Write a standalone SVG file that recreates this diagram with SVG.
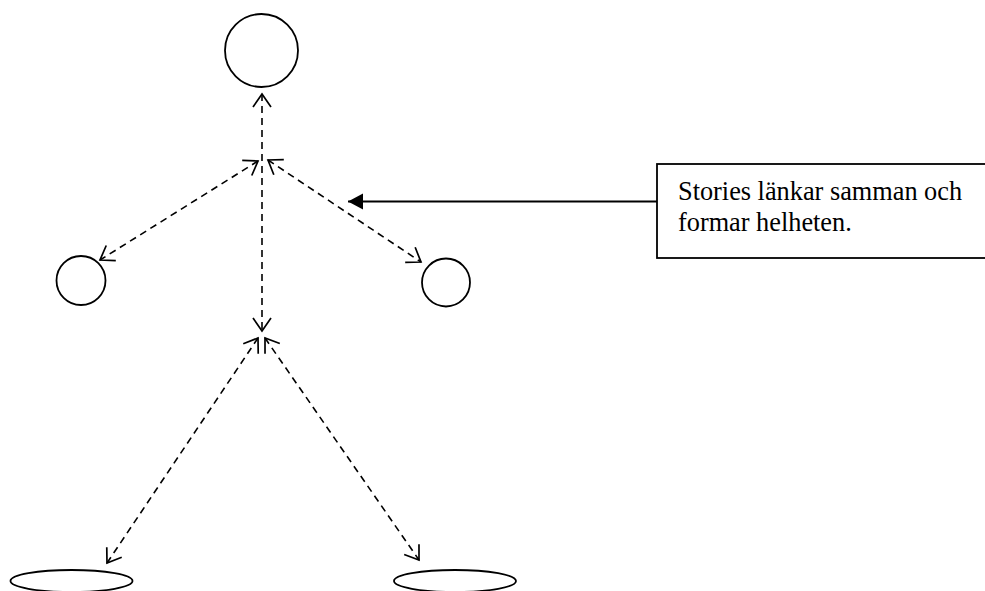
<svg xmlns="http://www.w3.org/2000/svg" width="985" height="591" viewBox="0 0 985 591">
  <defs>
    <style>
      .shape { fill: #fff; stroke: #000; stroke-width: 1.8; }
      .dash { fill: none; stroke: #000; stroke-width: 1.6; stroke-dasharray: 7 5; marker-start: url(#open); marker-end: url(#open); }
      .solid { fill: none; stroke: #000; stroke-width: 1.8; marker-end: url(#filled); }
      .label { font-family: "Liberation Serif", "Times New Roman", serif; font-size: 26.3px; fill: #000; }
    </style>
    <marker id="open" viewBox="-16 -11 18 22" refX="0" refY="0" markerWidth="18" markerHeight="22" markerUnits="userSpaceOnUse" orient="auto-start-reverse">
      <path d="M-13,-9 L0,0 L-13,9" fill="none" stroke="#000" stroke-width="1.7" stroke-dasharray="none"/>
    </marker>
    <marker id="filled" viewBox="-16 -9 18 18" refX="0" refY="0" markerWidth="18" markerHeight="18" markerUnits="userSpaceOnUse" orient="auto">
      <path d="M-15,-8 L0,0 L-15,8 Z" fill="#000" stroke="none"/>
    </marker>
  </defs>
  <rect width="985" height="591" fill="#fff"/>

  <g id="head"><circle class="shape" cx="261.5" cy="50.5" r="36.5"/></g>
  <g id="left-hand"><circle class="shape" cx="81" cy="280.5" r="24.5"/></g>
  <g id="right-hand"><circle class="shape" cx="446" cy="282.5" r="24"/></g>
  <g id="left-foot"><ellipse class="shape" cx="71.5" cy="581" rx="61" ry="11"/></g>
  <g id="right-foot"><ellipse class="shape" cx="455" cy="581" rx="61" ry="11"/></g>

  <g id="note">
    <rect class="shape" x="657" y="164" width="330" height="94"/>
    <text class="label" x="678" y="200">Stories länkar samman och</text>
    <text class="label" x="678" y="231">formar helheten.</text>
  </g>

  <g id="connectors">
    <line class="dash" x1="262" y1="94" x2="262" y2="331"/>
    <line class="dash" x1="258" y1="161" x2="100" y2="260"/>
    <line class="dash" x1="268" y1="160" x2="421" y2="262"/>
    <line class="dash" x1="258" y1="338" x2="107" y2="563"/>
    <line class="dash" x1="265" y1="338" x2="419" y2="560"/>
    <line class="solid" x1="657" y1="201.5" x2="348" y2="201.5"/>
  </g>
</svg>
